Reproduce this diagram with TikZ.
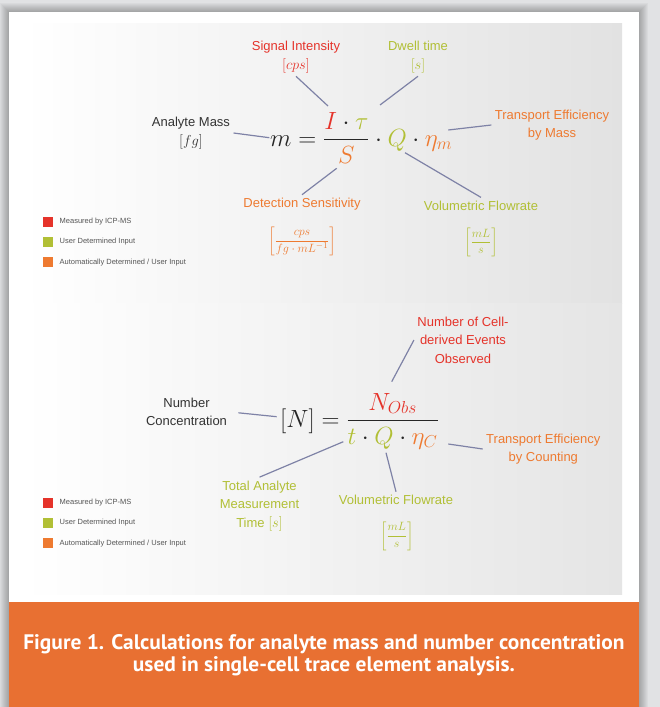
\documentclass[tikz,border=0pt]{standalone}
\usepackage{amsmath}
\usepackage[no-math]{fontspec}
\setmainfont{Liberation Sans}
\newfontfamily\capfont[FakeStretch=1.02]{PT Sans}
\usepackage{tikz}
\usetikzlibrary{arrows.meta}

\definecolor{pagegray}{HTML}{E1E2E4}
\definecolor{panelgray}{HTML}{E2E2E2}
\definecolor{capOrange}{HTML}{E87032}
\definecolor{mRed}{HTML}{E5332A}
\definecolor{uGreen}{HTML}{B1BF35}
\definecolor{aOrange}{HTML}{EE7A30}
\definecolor{txtDark}{HTML}{333333}
\definecolor{keyGray}{HTML}{555555}
\definecolor{lineBlue}{HTML}{7E82A6}

\newcommand{\unitmath}[1]{{\fontsize{15}{18}\selectfont$#1$}}

\tikzset{
	lbl/.style={font=\fontsize{13}{18.5}\selectfont, align=center},
	unitlbl/.style={font=\fontsize{13}{15}\selectfont, inner sep=1pt},
	conn/.style={draw=lineBlue, line width=1.2pt},
	keybox/.style={minimum size=10pt, inner sep=0pt},
	keytxt/.style={font=\fontsize{7.5}{9}\selectfont, text=keyGray, anchor=west, inner sep=0pt},
	eqn/.style={font=\fontsize{24}{28}\selectfont, inner sep=0pt, anchor=base west, text=black!85},
}

\begin{document}
\begin{tikzpicture}[x=1pt, y=-1pt]
	\useasboundingbox (0,0) rectangle (660,707);
	
	%page, card and shadow
	\fill[pagegray] (0,0) rectangle (660,707);
	\foreach \s in {1,...,9}
		\fill[black, opacity=0.03] (9-\s,12-\s) rectangle (639+\s,707);
	\fill[white] (9,12) rectangle (639,707);
	
	%shaded panels
	\shade[left color=white, middle color=white!70!panelgray, right color=panelgray] (22,23) rectangle (622,303);
	\shade[left color=white, middle color=white!80!panelgray, right color=panelgray!90] (22,303) rectangle (622,594);
	
	%caption band
	\fill[capOrange] (9,602) rectangle (639,707);
	\node[font=\capfont\bfseries\fontsize{21}{22.5}\selectfont, text=white, align=center] (caption) at (324,655)
		{Figure 1. Calculations for analyte mass and number concentration\\used in single-cell trace element analysis.};
	
	%legends
	\foreach \y/\k in {221.7/a, 502.7/b}{
		\foreach \c/\t [count=\i] in {mRed/Measured by ICP-MS, uGreen/User Determined Input, aOrange/{Automatically Determined / User Input}}{
			\node[keybox, fill=\c] (box\k\i) at (47.5,\y+20.3*\i-20.3) {};
			\node[keytxt] (key\k\i) at (59.5,\y+20.3*\i-20.3) {\t};
		}
	}
	
	%mass equation
	\node[eqn] (eqm) at (270,146) {$m = \dfrac{\textcolor{mRed}{I}\cdot\textcolor{uGreen}{\tau}}{\textcolor{aOrange}{S}}\cdot\textcolor{uGreen}{Q}\cdot\textcolor{aOrange}{\eta_m}$};
	\coordinate (cI) at (328,106);
	\coordinate (ctau) at (380,105);
	\coordinate (cm) at (269.3,137.7);
	\coordinate (ceta) at (448.3,130);
	\coordinate (cS) at (336.7,168.3);
	\coordinate (cQ) at (405,152.7);
	
	%mass labels
	\node[lbl, text=mRed] (sig) at (296,57) {Signal Intensity\\\unitmath{[cps]}};
	\node[lbl, text=uGreen] (dwell) at (418,57) {Dwell time\\\unitmath{[s]}};
	\node[lbl, text=txtDark] (amass) at (191,133) {Analyte Mass\\\unitmath{[fg]}};
	\node[lbl, text=aOrange] (teff) at (552,125) {Transport Efficiency\\by Mass};
	\node[lbl, text=aOrange] (det) at (302,204.3) {Detection Sensitivity};
	\node[unitlbl, text=aOrange] (detunit) at (302,241) {$\left[\dfrac{cps}{fg\cdot mL^{-1}}\right]$};
	\node[lbl, text=uGreen] (vol) at (481,205.7) {Volumetric Flowrate};
	\node[unitlbl, text=uGreen] (volunit) at (481,242.5) {$\left[\dfrac{mL}{s}\right]$};
	
	%mass connectors
	\draw[conn] (sig.south) -- (cI);
	\draw[conn] (dwell.south) -- (ctau);
	\draw[conn] (amass.east) -- (cm);
	\draw[conn] (teff.west) -- (ceta);
	\draw[conn] (det.north) -- (cS);
	\draw[conn] (vol.north) -- (cQ);
	
	%number equation
	\node[eqn] (eqN) at (280,427) {$[N] = \dfrac{\textcolor{mRed}{N_{Obs}}}{\textcolor{uGreen}{t}\cdot\textcolor{uGreen}{Q}\cdot\textcolor{aOrange}{\eta_C}}$};
	\coordinate (cNobs) at (391.7,381.7);
	\coordinate (cN) at (276.7,416.7);
	\coordinate (cetaC) at (448.3,444);
	\coordinate (ct) at (343.3,441.7);
	\coordinate (cQtwo) at (386,452.7);
	
	%number labels
	\node[lbl, text=mRed] (nobs) at (463,340) {Number of Cell-\\derived Events\\Observed};
	\node[lbl, text=txtDark] (numconc) at (186.5,412) {Number\\Concentration};
	\node[lbl, text=aOrange] (tec) at (543.3,449) {Transport Efficiency\\by Counting};
	\node[lbl, text=uGreen] (tat) at (259.5,505.7) {Total Analyte\\Measurement\\Time \unitmath{[s]}};
	\node[lbl, text=uGreen] (voltwo) at (396,500) {Volumetric Flowrate};
	\node[unitlbl, text=uGreen] (voltwounit) at (396.7,536) {$\left[\dfrac{mL}{s}\right]$};
	
	%number connectors
	\draw[conn] (nobs.west) -- (cNobs);
	\draw[conn, shorten <=8pt] (numconc.east) -- (cN);
	\draw[conn] (tec.west) -- (cetaC);
	\draw[conn] (tat.north) -- (ct);
	\draw[conn] (voltwo.north) -- (cQtwo);
	
\end{tikzpicture}
\end{document}
